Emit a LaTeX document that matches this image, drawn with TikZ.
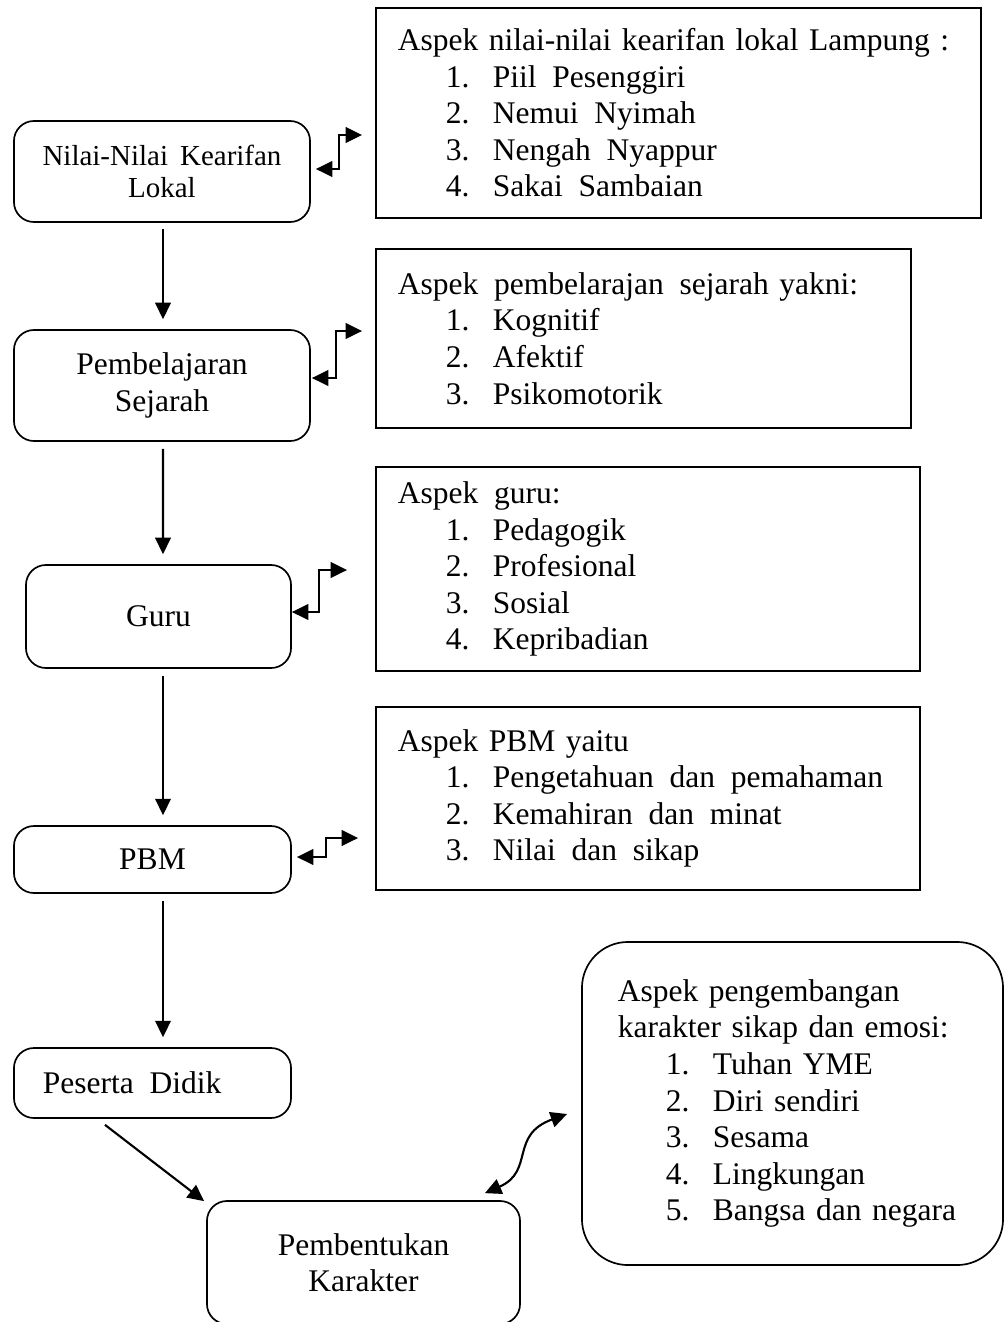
\documentclass[tikz,border=0pt]{standalone}
\usepackage{fontspec}
\setmainfont{Liberation Serif}
\usepackage{tikz}
\usetikzlibrary{arrows.meta,calc,positioning,shapes}
\tikzstyle{pokok}=[
	rectangle,
	rounded corners=0.5cm,
	draw=black,
	line width=1.2pt,
	align=center,
	font=\fontsize{22.4}{26}\selectfont]
\tikzstyle{aspek}=[
	rectangle,
	draw=black,
	line width=1.2pt,
	inner xsep=0.55cm,
	align=left,
	font=\fontsize{22.4}{26}\selectfont]
\tikzstyle{aspekbulat}=[
	aspek,
	rounded corners=1.15cm,
	inner xsep=0.9cm]
\tikzstyle{panah}=[->,line width=1.5pt]
\tikzstyle{dua}=[<->,line width=1.5pt]
\newcommand{\butir}[2]{\hspace*{1.2cm}\makebox[1.175cm][l]{#1.}#2}

\begin{document}
\begin{tikzpicture}[x=0.025cm,y=-0.025cm,>={Triangle[length=0.41cm,width=0.39cm]}]
	\useasboundingbox (0,0) rectangle (1006,1322);
	% kotak kiri
	\node[pokok,minimum width=7.4cm,minimum height=2.525cm,font=\fontsize{20.6}{23}\selectfont]
		(nilai) at (162,171.5) {Nilai-Nilai~\,Kearifan\\Lokal};
	\node[pokok,minimum width=7.4cm,minimum height=2.775cm]
		(belajar) at (162,385.5) {Pembelajaran\\Sejarah};
	\node[pokok,minimum width=6.625cm,minimum height=2.575cm]
		(guru) at (158.5,616.5) {Guru};
	\node[pokok,minimum width=6.925cm,minimum height=1.675cm]
		(pbm) at (152.5,859.5) {PBM};
	\node[pokok,minimum width=6.925cm,minimum height=1.75cm,inner xsep=0.725cm,text width=5.475cm,align=left]
		(peserta) at (152.5,1083) {Peserta~\,Didik};
	\node[pokok,minimum width=7.825cm,minimum height=3.075cm]
		(karakter) at (363.5,1262.5) {Pembentukan\\Karakter};
	% kotak kanan
	\node[aspek,minimum width=15.125cm,minimum height=5.25cm,text width=14.025cm]
		(aspekA) at (678.5,113) {Aspek nilai-nilai kearifan lokal Lampung :\\
		\butir{1}{Piil~\,Pesenggiri}\\ \butir{2}{Nemui~\,Nyimah}\\
		\butir{3}{Nengah~\,Nyappur}\\ \butir{4}{Sakai~\,Sambaian}};
	\node[aspek,minimum width=13.375cm,minimum height=4.475cm,text width=12.275cm]
		(aspekB) at (643.5,338.5) {Aspek~\,pembelarajan~\,sejarah yakni:\\
		\butir{1}{Kognitif}\\ \butir{2}{Afektif}\\ \butir{3}{Psikomotorik}};
	\node[aspek,minimum width=13.6cm,minimum height=5.1cm,text width=12.5cm]
		(aspekC) at (648,569) {Aspek~\,guru:\\
		\butir{1}{Pedagogik}\\ \butir{2}{Profesional}\\
		\butir{3}{Sosial}\\ \butir{4}{Kepribadian}};
	\node[aspek,minimum width=13.6cm,minimum height=4.575cm,text width=12.5cm]
		(aspekD) at (648,798.5) {Aspek PBM yaitu\\
		\butir{1}{Pengetahuan~\,dan~\,pemahaman}\\ \butir{2}{Kemahiran~\,dan~\,minat}\\
		\butir{3}{Nilai~\,dan~\,sikap}};
	\node[aspekbulat,minimum width=10.525cm,minimum height=8.075cm,text width=8.725cm]
		(aspekE) at (792.5,1103.5) {Aspek pengembangan\\karakter sikap dan emosi:\\
		\butir{1}{Tuhan YME}\\ \butir{2}{Diri sendiri}\\ \butir{3}{Sesama}\\
		\butir{4}{Lingkungan}\\ \butir{5}{Bangsa dan negara}};
	% panah turun
	\draw[panah] ($(nilai.south)+(1,6)$) -- ($(belajar.north)+(1,-10)$);
	\draw[panah] ($(belajar.south)+(1,7)$) -- ($(guru.north)+(4.5,-10)$);
	\draw[panah] ($(guru.south)+(4.5,7)$) -- ($(pbm.north)+(10.5,-10)$);
	\draw[panah] ($(pbm.south)+(10.5,7)$) -- ($(peserta.north)+(10.5,-10)$);
	\draw[panah] ($(peserta.south)+(-47.5,6)$) -- ($(karakter.north west)+(-2,1)$);
	% panah dua arah
	\draw[dua] ($(nilai.east)+(5,-2.5)$) -| ($(aspekA.west)+(-36,22)$) -- ($(aspekA.west)+(-13,22)$);
	\draw[dua] ($(belajar.east)+(1,-7.5)$) -| ($(aspekB.west)+(-39,-7.5)$) -- ($(aspekB.west)+(-13,-7.5)$);
	\draw[dua] ($(guru.east)+(0,-4.5)$) -| ($(aspekC.west)+(-56,1)$) -- ($(aspekC.west)+(-28,1)$);
	\draw[dua] ($(pbm.east)+(5,-2.5)$) -| ($(aspekD.west)+(-49,39.5)$) -- ($(aspekD.west)+(-17,39.5)$);
	\draw[dua] ($(karakter.north east)+(-36,-7)$) .. controls +(50,-22) and +(-58,21) .. ($(aspekE.west)+(-14,10.5)$);
\end{tikzpicture}
\end{document}
